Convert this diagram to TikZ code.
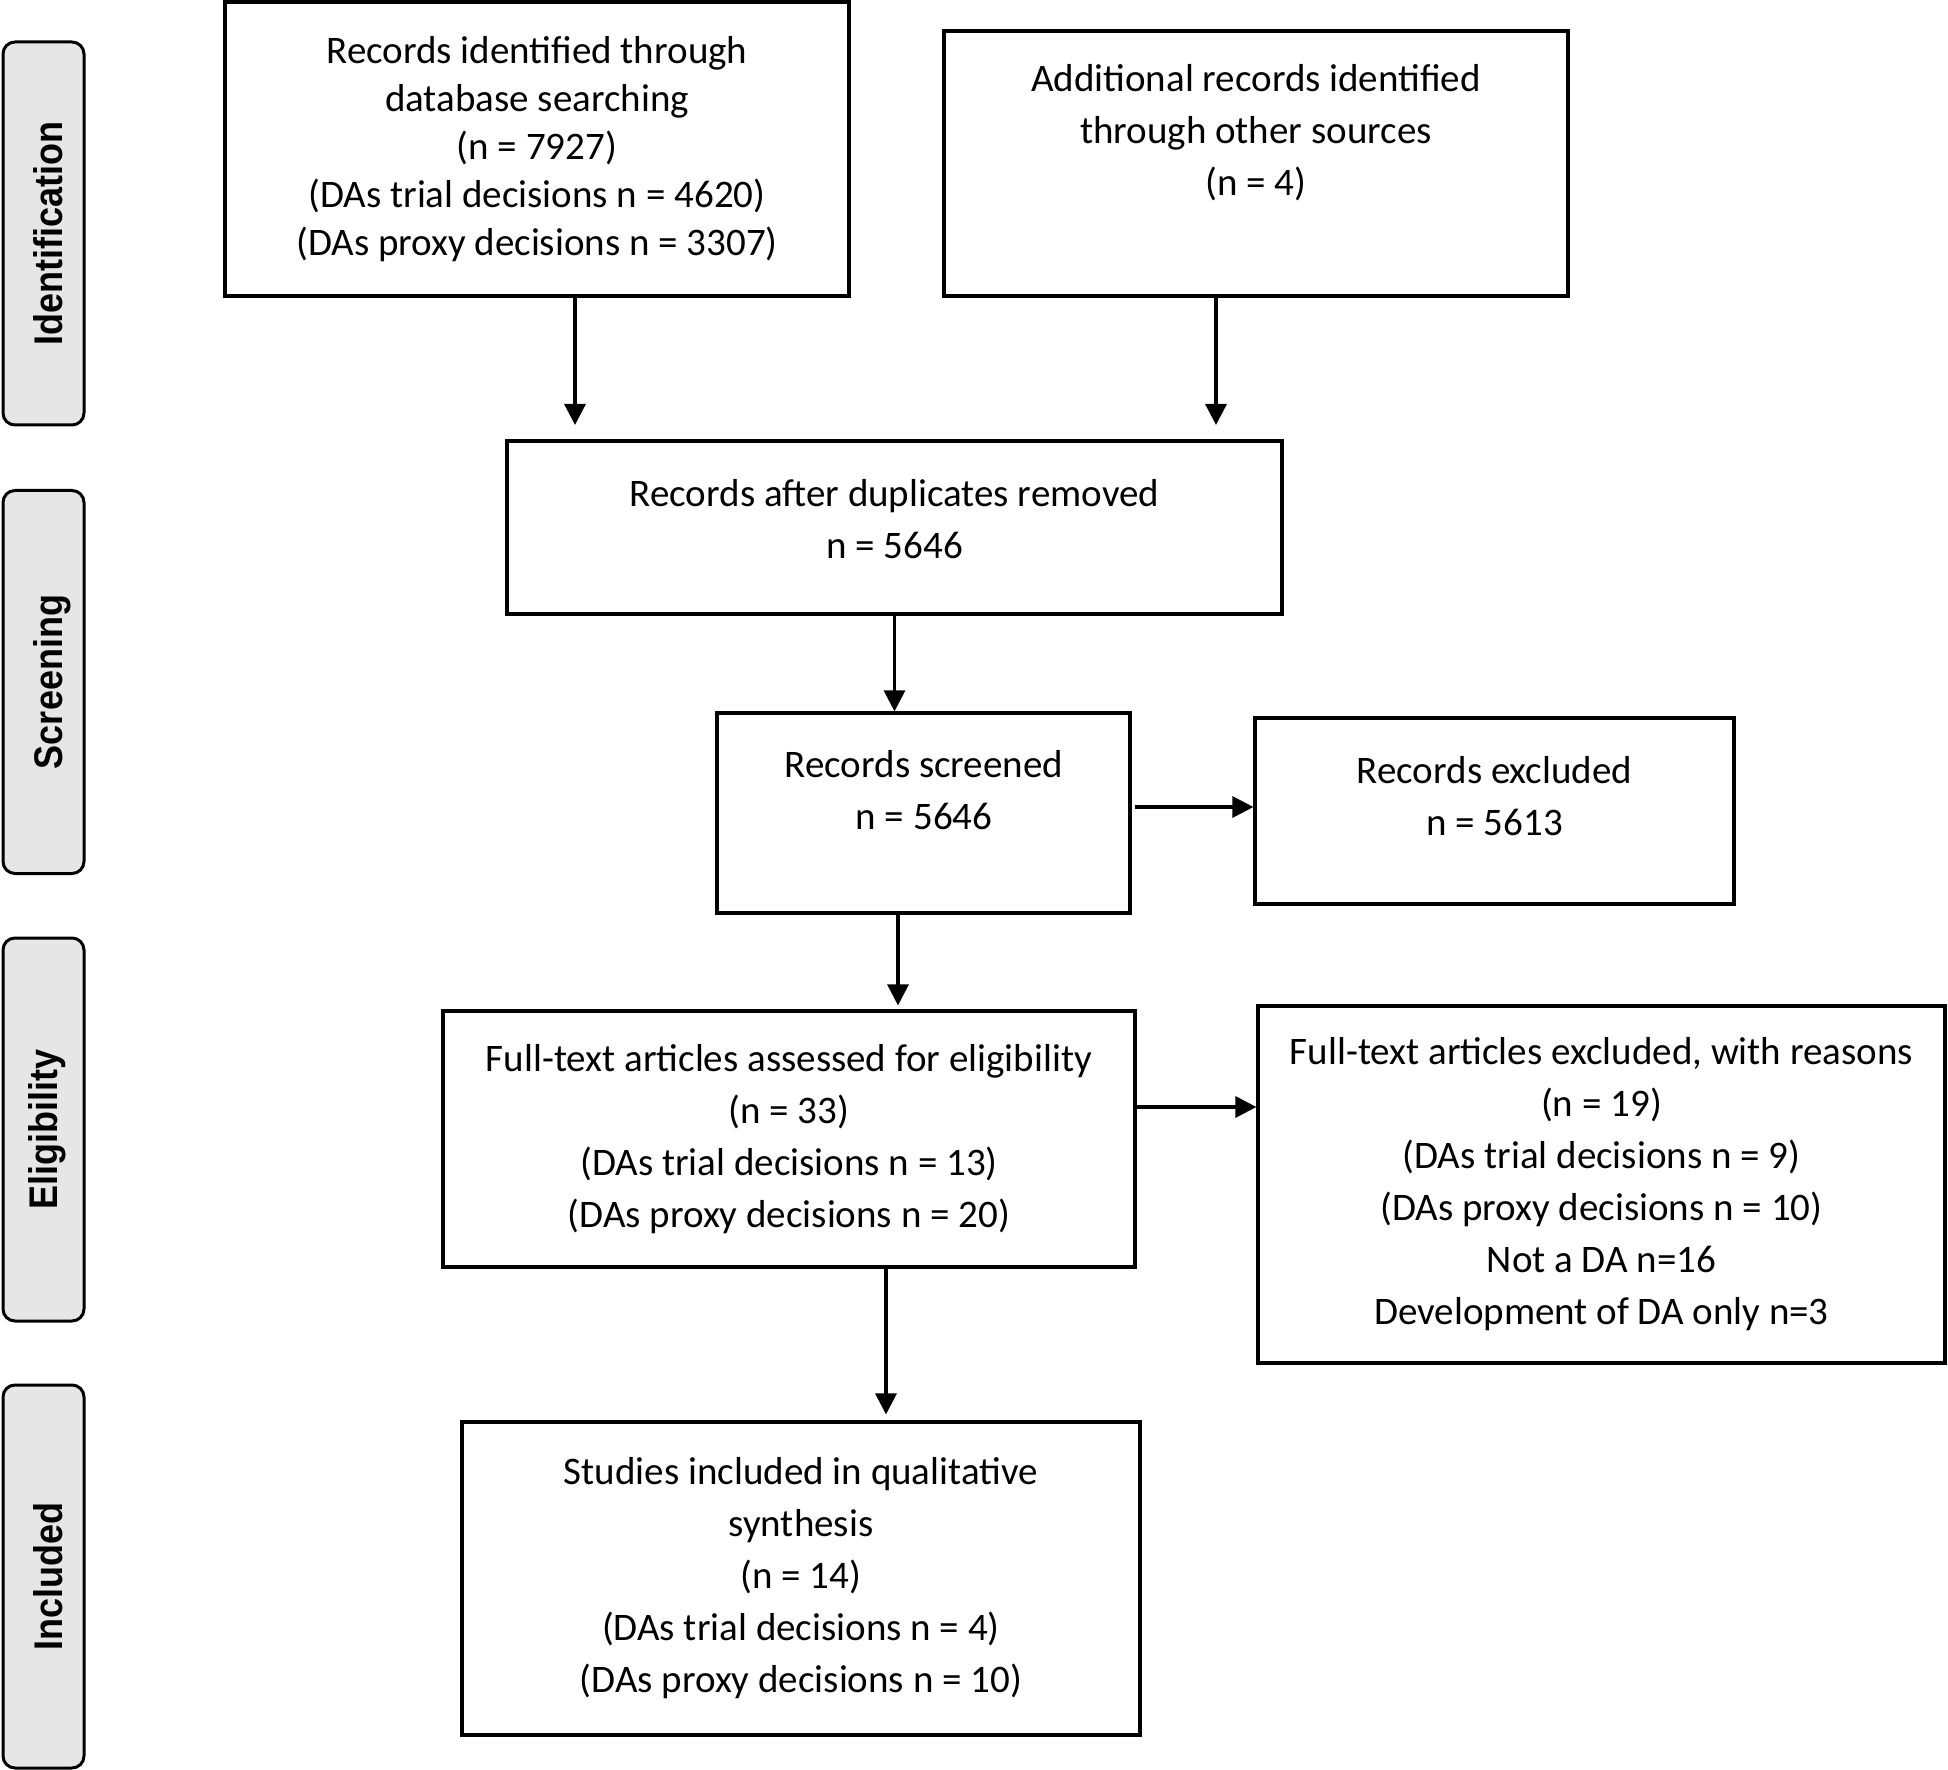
\documentclass[tikz,border=0pt]{standalone}
\usepackage{fontspec}
\setmainfont{Carlito}
\newfontfamily\sidefont{Liberation Sans}
\usetikzlibrary{arrows.meta,calc}
\definecolor{sidegray}{HTML}{E6E6E6}
\newcommand{\sidetext}[1]{\scalebox{0.9}[1]{#1}}
\begin{document}
\begin{tikzpicture}[x=0.5pt,y=-0.5pt,
  box/.style={draw, line width=1.6pt, inner sep=0pt, align=center, font=\fontsize{19.5}{26}\selectfont},
  txt/.style={inner sep=0pt, align=center, font=\fontsize{19.5}{26}\selectfont},
  side/.style={draw, line width=1.5pt, rounded corners=6pt, fill=sidegray,
    minimum width=40.5pt, minimum height=191.5pt, inner sep=0pt},
  sidelab/.style={rotate=90, anchor=base, inner sep=0pt,
    font=\sidefont\bfseries\fontsize{20}{22}\selectfont},
  arr/.style={line width=1.6pt, -{Triangle[length=10.5pt,width=10.5pt]}}]
\useasboundingbox (0,0) rectangle (1948,1770);

% phase labels
\node[side] (sid) at (43.5,233.5) {};
\node[side] (ssc) at (43.5,682) {};
\node[side] (sel) at (43.5,1129.5) {};
\node[side] (sin) at (43.5,1576.5) {};
\node[sidelab] (lid) at (62,233.5) {\sidetext{Identification}};
\node[sidelab] (lsc) at (62,682) {\sidetext{Screening}};
\node[sidelab] (lel) at (57,1129.5) {\sidetext{Eligibility}};
\node[sidelab] (lin) at (62,1576.5) {\sidetext{Included}};

% boxes
\node[box, minimum width=312pt, minimum height=147pt, font=\fontsize{19.5}{24}\selectfont] (b1) at (537,149)
  {Records identified through\\database searching\\(n = 7927)\\(DAs trial decisions n = 4620)\\(DAs proxy decisions n = 3307)};
\node[box, minimum width=312pt, minimum height=132.5pt] (b2) at (1256,163.5) {};
\node[txt] (t2) at (1256,133) {Additional records identified\\through other sources\\(n = 4)};
\node[box, minimum width=387.5pt, minimum height=86.5pt] (b3) at (894.5,527.5) {};
\node[txt] (t3) at (894.5,519) {Records after duplicates removed\\n = 5646};
\node[box, minimum width=206.5pt, minimum height=100pt] (b4) at (923.5,813) {};
\node[txt] (t4) at (924,790) {Records screened\\n = 5646};
\node[box, minimum width=239.5pt, minimum height=93pt] (b5) at (1494.5,811) {};
\node[txt] (t5) at (1494.5,796) {Records excluded\\n = 5613};
\node[box, minimum width=346pt, minimum height=128pt] (b6) at (789,1139)
  {Full-text articles assessed for eligibility\\(n = 33)\\(DAs trial decisions n = 13)\\(DAs proxy decisions n = 20)};
\node[box, minimum width=343.5pt, minimum height=178.5pt] (b7) at (1601.5,1184.5)
  {Full-text articles excluded, with reasons\\(n = 19)\\(DAs trial decisions n = 9)\\(DAs proxy decisions n = 10)\\Not a DA n=16\\Development of DA only n=3};
\node[box, minimum width=339pt, minimum height=156.5pt] (b8) at (801,1578.5)
  {Studies included in qualitative\\synthesis\\(n = 14)\\(DAs trial decisions n = 4)\\(DAs proxy decisions n = 10)};

% connectors
\coordinate (m1) at (575,425);
\coordinate (m2) at (1216,425);
\draw[arr] (b1.south -| m1) -- (m1);
\draw[arr] (b2.south -| m2) -- (m2);
\draw[arr] (b3.south) -- (b3.south |- b4.north);
\path ($(b4.south)+(-25.5,0)$) coordinate (s46);
\draw[arr] (s46) -- ($(s46 |- b6.north)+(0,-4)$);
\path ($(b4.east)+(3,-6)$) coordinate (s45);
\draw[arr] (s45) -- (s45 -| b5.west);
\path ($(b6.east)+(0,-32)$) coordinate (s67);
\draw[arr] (s67) -- (s67 -| b7.west);
\path ($(b6.south)+(97,0)$) coordinate (s68);
\draw[arr] (s68) -- ($(s68 |- b8.north)+(0,-6)$);
\end{tikzpicture}
\end{document}
